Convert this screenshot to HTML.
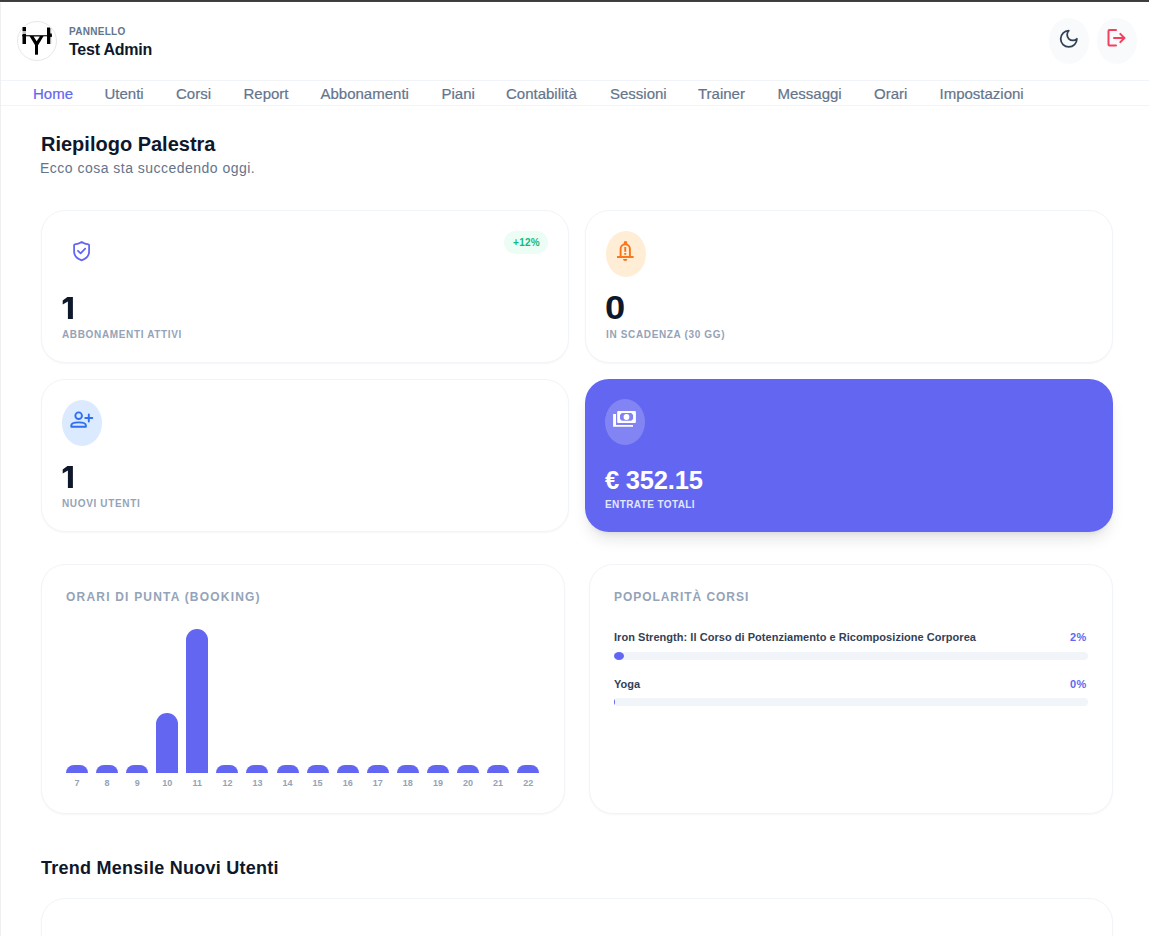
<!DOCTYPE html>
<html><head><meta charset="utf-8">
<style>
*{margin:0;padding:0;box-sizing:border-box}
html,body{width:1149px;height:936px;overflow:hidden;background:#fff}
body{font-family:"Liberation Sans",sans-serif;position:relative;color:#0f172a}
.a{position:absolute;white-space:nowrap}
#topbar{left:0;top:0;width:1149px;height:2px;background:linear-gradient(#3c3c3c 0,#3c3c3c 1px,#414341 1px,#414341 2px)}
#leftbar{left:0;top:3px;width:1px;height:933px;background:#eeeff1}
.hline{left:1px;width:1148px;height:1px;background:#f1f5f9}
.nav{top:86px;font-size:15px;line-height:16px;color:#64748b;-webkit-text-stroke:0.2px currentColor}
.card{border:1px solid #f1f5f9;border-radius:24px;background:#fff;box-shadow:0 1px 2px rgba(0,0,0,0.04)}
.ibox{width:40px;height:46px;border-radius:50%}
.num{font-size:33px;font-weight:bold;line-height:33px;color:#0f172a}
.lbl{font-size:10px;font-weight:bold;line-height:12px;color:#94a3b8;letter-spacing:0.65px}
.ctitle{font-size:12px;font-weight:bold;line-height:14px;color:#94a3b8;letter-spacing:1.2px}
.bar{position:absolute;width:22px;background:#6366f1;border-radius:11px 11px 0 0}
.bl{position:absolute;top:778px;width:22px;text-align:center;font-size:9px;font-weight:bold;color:#94a3b8;line-height:10px}
</style></head><body>
<div id="topbar" class="a"></div>
<div id="leftbar" class="a"></div>

<!-- header -->
<div class="a" style="left:17px;top:21px;width:40px;height:40px;border:1px solid #e5e7eb;border-radius:50%"></div>
<svg class="a" style="left:17px;top:21px" width="40" height="40" viewBox="17 21 40 40">
  <rect x="22.5" y="27" width="3.5" height="4" fill="#000"/>
  <rect x="22.5" y="31" width="3.5" height="3" fill="#bbb"/>
  <rect x="22.5" y="34" width="3.5" height="10" fill="#000"/>
  <rect x="47" y="27.5" width="3" height="16.5" fill="#000"/>
  <rect x="50" y="28" width="1.2" height="16" fill="#aaa"/>
  <rect x="22" y="35.2" width="30" height="1.1" fill="#000"/>
  <polygon points="29.5,36 43.6,36 38.2,45 35,45" fill="#000"/><polygon points="33.6,36.6 39.8,36.6 36.7,41.3" fill="#fff"/><rect x="50" y="33.2" width="1.8" height="4" rx="0.9" fill="#000"/>
  <rect x="35" y="44" width="3" height="10.7" fill="#000"/>
</svg>
<div class="a" style="left:69px;top:27px;font-size:10px;line-height:10px;font-weight:bold;color:#64748b;letter-spacing:0.28px">PANNELLO</div>
<div class="a" style="left:69px;top:42px;font-size:16px;line-height:16px;font-weight:bold;color:#0f172a;letter-spacing:-0.22px">Test Admin</div>

<div class="a" style="left:1049px;top:18px;width:40px;height:46px;border-radius:50%;background:#f8fafc"></div>
<svg class="a" style="left:1057.75px;top:27.5px" width="21.6" height="21.6" viewBox="0 0 24 24" fill="none" stroke="#334155" stroke-width="2" stroke-linecap="round" stroke-linejoin="round"><path d="M12 3a6 6 0 0 0 9 9 9 9 0 1 1-9-9Z"/></svg>
<div class="a" style="left:1097px;top:18px;width:40px;height:46px;border-radius:50%;background:#f8fafc"></div>
<svg class="a" style="left:1100px;top:22px" width="32" height="32" viewBox="1100 22 32 32" fill="none" stroke="#f43f5e" stroke-width="2" stroke-linecap="round" stroke-linejoin="round"><path d="M1116 30h-6.5a1 1 0 0 0-1 1v13.6a1 1 0 0 0 1 1h6.5"/><path d="M1114 38h10.3"/><path d="M1120.3 33.9l4.1 4.1-4.1 4.1"/></svg>

<div class="a hline" style="top:80px"></div>
<div class="a hline" style="top:105px"></div>

<div class="a nav" style="left:33px;color:#6366f1">Home</div>
<div class="a nav" style="left:104.5px">Utenti</div>
<div class="a nav" style="left:176px">Corsi</div>
<div class="a nav" style="left:243.5px">Report</div>
<div class="a nav" style="left:320.5px">Abbonamenti</div>
<div class="a nav" style="left:441.5px">Piani</div>
<div class="a nav" style="left:506px">Contabilità</div>
<div class="a nav" style="left:610px">Sessioni</div>
<div class="a nav" style="left:698px">Trainer</div>
<div class="a nav" style="left:777.5px">Messaggi</div>
<div class="a nav" style="left:874px">Orari</div>
<div class="a nav" style="left:939.5px">Impostazioni</div>

<!-- title -->
<div class="a" style="left:41px;top:133px;font-size:20px;line-height:22px;font-weight:bold;color:#0f172a">Riepilogo Palestra</div>
<div class="a" style="left:40px;top:160px;font-size:14px;line-height:16px;color:#64748b;letter-spacing:0.48px">Ecco cosa sta succedendo oggi.</div>

<!-- stat cards -->
<div class="a card" style="left:41px;top:210px;width:528px;height:153px"></div>
<div class="a card" style="left:585px;top:210px;width:528px;height:153px"></div>
<div class="a card" style="left:41px;top:379px;width:528px;height:153px"></div>
<div class="a" style="left:585px;top:379px;width:528px;height:153px;border-radius:24px;background:#6366f1;box-shadow:0 10px 15px -3px rgba(0,0,0,0.1),0 4px 6px -4px rgba(0,0,0,0.1)"></div>


<!-- card 1 contents -->
<svg class="a" style="left:62px;top:231px" width="40" height="40" viewBox="62 231 40 40" fill="none" stroke="#6366f1" stroke-width="1.8" stroke-linecap="round" stroke-linejoin="round">
 <path d="M81.7 241.9c-2 1.3-4.2 2.2-6.9 2.5a0.8 0.8 0 0 0-.7.8v6.2c0 4.6 3.1 7.3 7.2 8.8a1 1 0 0 0 .7 0c4.1-1.5 7.1-4.2 7.1-8.8v-6.2a.8.8 0 0 0-.7-.8c-2.6-.3-4.8-1.2-6.7-2.5z"/>
 <path d="M78 250.8l2.6 2.5 4.6-4.6"/>
</svg>
<div class="a" style="left:504px;top:231px;width:44px;height:23px;border-radius:12px;background:#ecfdf5"></div>
<div class="a" style="left:504.5px;top:237.5px;width:44px;text-align:center;font-size:10px;line-height:10px;font-weight:bold;color:#10b981;letter-spacing:0.25px">+12%</div>
<svg class="a" style="left:58px;top:292px" width="20" height="30" viewBox="58 292 20 30"><polygon points="62.7,300.6 67.4,297 72.9,297 72.9,318.9 67.9,318.9 67.9,301.4 62.7,304.5" fill="#0f172a"/></svg>
<div class="a lbl" style="left:62px;top:329px">ABBONAMENTI ATTIVI</div>

<!-- card 2 contents -->
<div class="a ibox" style="left:606px;top:231px;background:#ffedd5"></div>
<svg class="a" style="left:610px;top:235px" width="32" height="32" viewBox="610 235 32 32" fill="none" stroke="#f97316" stroke-width="1.9" stroke-linecap="butt" stroke-linejoin="round">
 <path d="M620.6 256.5v-7.6a4.65 4.65 0 0 1 9.3 0v7.6"/>
 <path d="M617 257h16.6"/>
 <path d="M624.1 241.2h2.8l0.4 2.6h-3.6z" fill="#f97316" stroke="none"/>
 <path d="M625.25 247v4.8"/>
 <path d="M625.25 253v1.8"/>
 <path d="M623 259h4.4a2.2 1.9 0 0 1-4.4 0z" fill="#f97316" stroke="none"/>
</svg>
<div class="a num" style="left:605px;top:291px;transform:scaleX(1.1);transform-origin:0 0">0</div>
<div class="a lbl" style="left:606px;top:329px">IN SCADENZA (30 GG)</div>

<!-- card 3 contents -->
<div class="a ibox" style="left:62px;top:400px;background:#dbeafe"></div>
<svg class="a" style="left:66px;top:400px" width="32" height="32" viewBox="66 400 32 32" fill="none" stroke="#3070f0" stroke-width="1.9" stroke-linecap="round" stroke-linejoin="round">
 <circle cx="78.65" cy="415.7" r="3.3"/>
 <path d="M71.3 426.8v-1.2c0-2 3-3.2 7.3-3.2s7.3 1.2 7.3 3.2v1.2z"/>
 <path d="M88.8 414.5v7M85.3 418h7"/>
</svg>
<svg class="a" style="left:58px;top:461px" width="20" height="30" viewBox="58 292 20 30"><polygon points="62.7,300.6 67.4,297 72.9,297 72.9,318.9 67.9,318.9 67.9,301.4 62.7,304.5" fill="#0f172a"/></svg>
<div class="a lbl" style="left:62px;top:498px">NUOVI UTENTI</div>

<!-- card 4 contents -->
<div class="a ibox" style="left:605px;top:399px;background:rgba(255,255,255,0.2)"></div>
<svg class="a" style="left:608px;top:402px" width="32" height="32" viewBox="608 402 32 32">
 <path fill="#fff" fill-rule="evenodd" d="M618.2 410.9h16.7a1 1 0 0 1 1 1v10a1 1 0 0 1-1 1h-16.7a1 1 0 0 1-1-1v-10a1 1 0 0 1 1-1zM621.8 413.1l-1.8 1.9v3.9l1.8 1.9h9.5l1.8-1.9v-3.9l-1.8-1.9z"/>
 <circle cx="626.5" cy="417" r="2.9" fill="#fff"/>
 <path fill="#fff" d="M613.1 414h2.9v10.9h17v1.9h-19.9z"/>
</svg>
<div class="a" style="left:605px;top:467.5px;font-size:25.5px;line-height:25.5px;font-weight:bold;color:#fff;letter-spacing:-0.2px">€ 352.15</div>
<div class="a lbl" style="left:605px;top:499px;color:#e0e7ff;letter-spacing:0.4px">ENTRATE TOTALI</div>

<!-- chart cards -->
<div class="a card" style="left:41px;top:564px;width:524px;height:250px"></div>
<div class="a card" style="left:589px;top:564px;width:524px;height:250px"></div>
<div class="a ctitle" style="left:66px;top:590px">ORARI DI PUNTA (BOOKING)</div>
<div class="a ctitle" style="left:614px;top:590px;letter-spacing:0.95px">POPOLARITÀ CORSI</div>
<div class="bar" style="left:66.00px;top:765px;height:8px"></div>
<div class="bl" style="left:66.00px">7</div>
<div class="bar" style="left:96.08px;top:765px;height:8px"></div>
<div class="bl" style="left:96.08px">8</div>
<div class="bar" style="left:126.16px;top:765px;height:8px"></div>
<div class="bl" style="left:126.16px">9</div>
<div class="bar" style="left:156.24px;top:713px;height:60px"></div>
<div class="bl" style="left:156.24px">10</div>
<div class="bar" style="left:186.32px;top:629px;height:144px"></div>
<div class="bl" style="left:186.32px">11</div>
<div class="bar" style="left:216.40px;top:765px;height:8px"></div>
<div class="bl" style="left:216.40px">12</div>
<div class="bar" style="left:246.48px;top:765px;height:8px"></div>
<div class="bl" style="left:246.48px">13</div>
<div class="bar" style="left:276.56px;top:765px;height:8px"></div>
<div class="bl" style="left:276.56px">14</div>
<div class="bar" style="left:306.64px;top:765px;height:8px"></div>
<div class="bl" style="left:306.64px">15</div>
<div class="bar" style="left:336.72px;top:765px;height:8px"></div>
<div class="bl" style="left:336.72px">16</div>
<div class="bar" style="left:366.80px;top:765px;height:8px"></div>
<div class="bl" style="left:366.80px">17</div>
<div class="bar" style="left:396.88px;top:765px;height:8px"></div>
<div class="bl" style="left:396.88px">18</div>
<div class="bar" style="left:426.96px;top:765px;height:8px"></div>
<div class="bl" style="left:426.96px">19</div>
<div class="bar" style="left:457.04px;top:765px;height:8px"></div>
<div class="bl" style="left:457.04px">20</div>
<div class="bar" style="left:487.12px;top:765px;height:8px"></div>
<div class="bl" style="left:487.12px">21</div>
<div class="bar" style="left:517.20px;top:765px;height:8px"></div>
<div class="bl" style="left:517.20px">22</div>

<div class="a" style="left:614px;top:631px;font-size:11px;line-height:12px;font-weight:bold;color:#334155;letter-spacing:0.04px">Iron Strength: Il Corso di Potenziamento e Ricomposizione Corporea</div>
<div class="a" style="left:1000px;top:631px;width:87px;text-align:right;font-size:11px;line-height:12px;font-weight:bold;color:#6366f1;letter-spacing:0.6px">2%</div>
<div class="a" style="left:614px;top:652px;width:474px;height:8px;border-radius:4px;background:#f1f5f9"></div>
<div class="a" style="left:614px;top:652px;width:10px;height:8px;border-radius:50%;background:#6366f1"></div>
<div class="a" style="left:614px;top:678px;font-size:11px;line-height:12px;font-weight:bold;color:#334155">Yoga</div>
<div class="a" style="left:1000px;top:678px;width:87px;text-align:right;font-size:11px;line-height:12px;font-weight:bold;color:#6366f1;letter-spacing:0.6px">0%</div>
<div class="a" style="left:614px;top:698px;width:474px;height:8px;border-radius:4px;background:#f1f5f9"></div>
<div class="a" style="left:614px;top:698px;width:8px;height:8px;border-radius:4px;background:#6366f1;clip-path:inset(0 7px 0 0)"></div>

<!-- trend -->
<div class="a" style="left:41px;top:858px;font-size:18px;line-height:20px;font-weight:bold;color:#0f172a;letter-spacing:0.26px">Trend Mensile Nuovi Utenti</div>
<div class="a card" style="left:41px;top:898px;width:1072px;height:200px"></div>
</body></html>
